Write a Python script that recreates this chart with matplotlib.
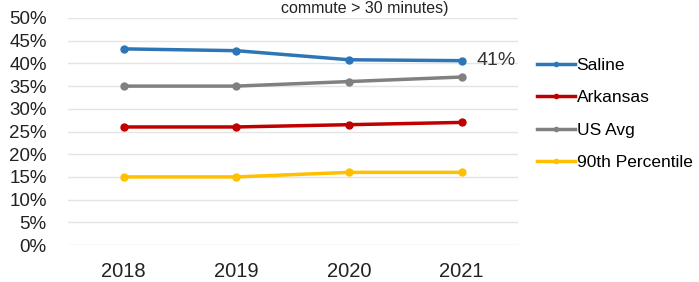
import numpy as np
import matplotlib.pyplot as plt
from matplotlib.ticker import FuncFormatter

plt.rcParams['font.family'] = ['Liberation Sans', 'DejaVu Sans']

years = [2018, 2019, 2020, 2021]
saline = [43.2, 42.8, 40.8, 40.6]
arkansas = [26.0, 26.0, 26.5, 27.0]
us_avg = [35.0, 35.0, 36.0, 37.0]
pct90 = [15.0, 15.0, 16.0, 16.0]

series = [
    ('Saline', saline, '#2E75B6'),
    ('Arkansas', arkansas, '#C00000'),
    ('US Avg', us_avg, '#808080'),
    ('90th Percentile', pct90, '#FFC000'),
]

fig = plt.figure(figsize=(6.99, 2.82), dpi=100)
ax = fig.add_axes([67.5 / 699, 37 / 282, (518 - 67.5) / 699, (245 - 18) / 282])

for name, vals, col in series:
    ax.plot(years, vals, color=col, lw=2.5, marker='o', ms=5, label=name)

ax.annotate('41%', (years[-1], saline[-1]), xytext=(11, 0), textcoords='offset points',
            va='center', ha='left', fontsize=14, color='#333333')

ax.set_xlim(2017.5, 2021.5)
ax.set_ylim(0, 50)
ax.set_yticks(np.arange(0, 51, 5))
ax.yaxis.set_major_formatter(FuncFormatter(lambda v, p: f'{v:.0f}%'))
ax.set_xticks(years)
ax.grid(axis='y', color='#e4e4e4', lw=1)
ax.set_axisbelow(True)
for s in ax.spines.values():
    s.set_visible(False)
ax.tick_params(length=0, labelsize=13.5, colors='#222222')
ax.tick_params(axis='x', pad=12, labelsize=14.5)
ax.tick_params(axis='y', pad=15)

fig.text(365 / 699, 1 - 8 / 282, 'commute > 30 minutes)', ha='center', va='center',
         fontsize=11.5, color='#222222')

ax.legend(loc='upper left', bbox_to_anchor=(521 / 699, 1 - 42 / 282),
          bbox_transform=fig.transFigure, frameon=False, fontsize=12.5,
          handlelength=2.2, handletextpad=0.1, labelspacing=1.0, markerscale=0.6)

fig.savefig('out.png', dpi=100)
